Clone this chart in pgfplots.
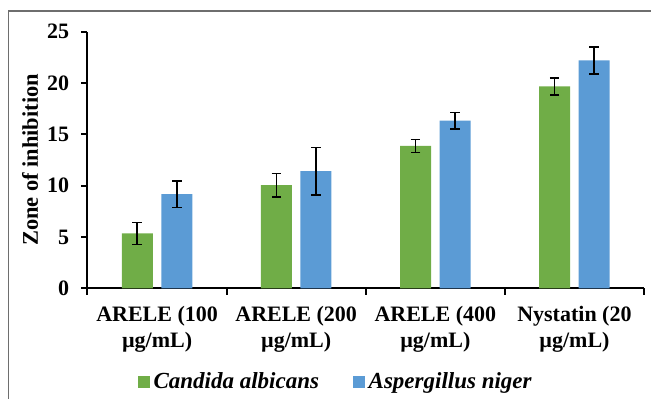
\documentclass[border=0pt]{standalone}
\usepackage{fontspec}
\setmainfont{Liberation Serif}
\usepackage{pgfplots}
\pgfplotsset{compat=1.18}
\definecolor{cgreen}{HTML}{70AD47}
\definecolor{cblue}{HTML}{5B9BD5}
\definecolor{framegray}{HTML}{6E6E6E}
\begin{document}
\begin{tikzpicture}
\useasboundingbox (-43.75pt,-54.85pt) rectangle (281.75pt,144.15pt);
\draw[framegray, line width=0.7pt] (-39.5pt,-80pt) rectangle (300pt,138.6pt);
\begin{axis}[
  at={(0,0)}, anchor=south west,
  scale only axis,
  width=278.25pt, height=128.4pt,
  xmin=-0.5, xmax=3.5,
  ymin=0, ymax=25,
  axis lines*=left,
  axis line style={black, line width=1pt},
  ytick={0,5,10,15,20,25},
  xtick={-0.5,0.5,1.5,2.5,3.5},
  xticklabels={},
  extra x ticks={0,1,2,3},
  extra x tick labels={{ARELE (100\\µg/mL)},{ARELE (200\\µg/mL)},{ARELE (400\\µg/mL)},{Nystatin (20\\µg/mL)}},
  extra x tick style={major tick length=0pt, xticklabel style={align=center, font=\fontsize{11}{13}\selectfont\bfseries, yshift=-5.5pt}},
  tick align=outside,
  major tick length=3.2pt,
  every tick/.style={black, line width=1pt},
  yticklabel style={font=\fontsize{11}{12}\selectfont\bfseries, xshift=-2.5pt},
  /pgf/number format/assume math mode=true,
  ylabel={Zone of inhibition},
  every axis y label/.style={at={(axis description cs:-0.103,0.5)}, rotate=90, anchor=center, font=\fontsize{11.2}{13}\selectfont\bfseries},
  ybar,
  bar width=15.5pt,
  legend style={at={(axis description cs:0.09,-0.365)}, anchor=west, draw=none, inner sep=0pt,
    font=\fontsize{11.5}{12}\selectfont\bfseries\itshape, legend columns=2,
    /tikz/every even column/.append style={column sep=15pt}},
  legend image code/.code={\fill[#1] (0pt,-2.9pt) rectangle (5.8pt,2.9pt);},
  error bars/error bar style={black, line width=0.8pt},
  error bars/error mark options={black, line width=0.8pt, mark size=2.4pt, rotate=90},
]
\addplot[fill=cgreen, draw=none, bar shift=-9.9pt,
  error bars/.cd, y dir=both, y explicit]
  coordinates {(0,5.34) +- (0,1.08) (1,10.04) +- (0,1.15) (2,13.86) +- (0,0.62) (3,19.66) +- (0,0.83)};
\addlegendentry{Candida albicans}
\addplot[fill=cblue, draw=none, bar shift=9.9pt,
  error bars/.cd, y dir=both, y explicit]
  coordinates {(0,9.16) +- (0,1.3) (1,11.40) +- (0,2.3) (2,16.32) +- (0,0.8) (3,22.18) +- (0,1.3)};
\addlegendentry{Aspergillus niger}
\end{axis}
\end{tikzpicture}
\end{document}
